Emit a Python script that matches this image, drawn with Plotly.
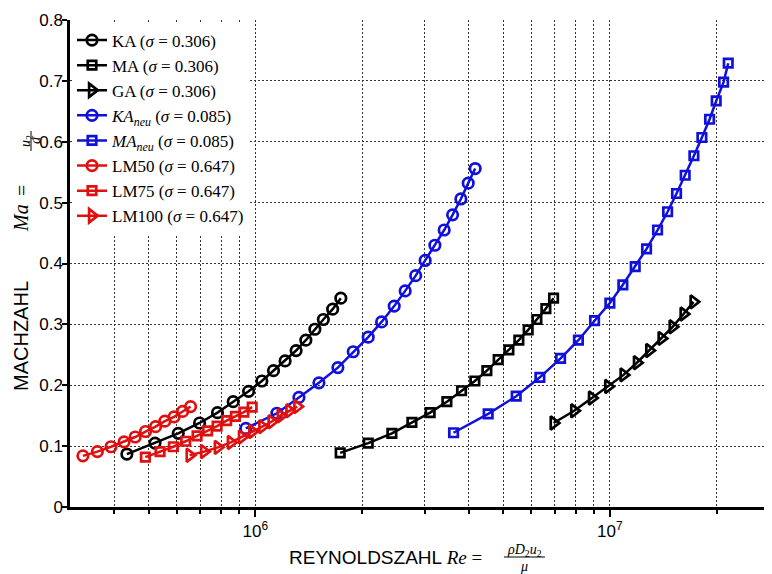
import plotly.graph_objects as go

# ---------------- data ----------------
ka_re = [4.34e5, 5.21e5, 6.06e5, 6.96e5, 7.82e5, 8.66e5, 9.57e5, 1.043e6,
         1.125e6, 1.213e6, 1.303e6, 1.388e6, 1.472e6, 1.555e6, 1.652e6, 1.742e6]
ka_ma = [0.087, 0.105, 0.121, 0.138, 0.155, 0.173, 0.190, 0.207,
         0.224, 0.240, 0.257, 0.274, 0.292, 0.308, 0.325, 0.343]

ma_re = [1.735e6, 2.081e6, 2.427e6, 2.764e6, 3.112e6, 3.469e6, 3.816e6, 4.161e6,
         4.498e6, 4.841e6, 5.190e6, 5.537e6, 5.882e6, 6.225e6, 6.599e6, 6.937e6]
ma_ma = [0.089, 0.105, 0.121, 0.139, 0.155, 0.173, 0.191, 0.207,
         0.224, 0.242, 0.258, 0.274, 0.291, 0.308, 0.326, 0.343]

ga_re = [6.94e6, 7.93e6, 8.90e6, 9.89e6, 1.093e7, 1.192e7, 1.291e7, 1.399e7,
         1.503e7, 1.614e7, 1.722e7]
ga_ma = [0.138, 0.158, 0.179, 0.198, 0.217, 0.237, 0.257, 0.277,
         0.296, 0.317, 0.337]

kaneu_re = [9.40e5, 1.150e6, 1.327e6, 1.511e6, 1.709e6, 1.888e6, 2.081e6, 2.270e6,
            2.464e6, 2.646e6, 2.833e6, 3.013e6, 3.209e6, 3.409e6, 3.600e6, 3.799e6,
            3.985e6, 4.169e6]
kaneu_ma = [0.129, 0.154, 0.180, 0.204, 0.229, 0.255, 0.279, 0.304,
            0.330, 0.355, 0.380, 0.405, 0.430, 0.455, 0.480, 0.506,
            0.532, 0.556]

maneu_re = [3.623e6, 4.536e6, 5.442e6, 6.347e6, 7.260e6, 8.152e6, 9.054e6, 1.000e7,
            1.088e7, 1.179e7, 1.269e7, 1.363e7, 1.455e7, 1.542e7, 1.631e7, 1.726e7,
            1.818e7, 1.911e7, 1.995e7, 2.093e7, 2.157e7]
maneu_ma = [0.122, 0.153, 0.182, 0.213, 0.244, 0.274, 0.306, 0.335,
            0.365, 0.395, 0.424, 0.455, 0.485, 0.515, 0.545, 0.577,
            0.607, 0.637, 0.667, 0.698, 0.729]

lm50_re = [3.262e5, 3.584e5, 3.917e5, 4.263e5, 4.581e5, 4.900e5, 5.230e5, 5.555e5,
           5.897e5, 6.235e5, 6.566e5]
lm50_ma = [0.084, 0.091, 0.099, 0.107, 0.115, 0.124, 0.132, 0.141,
           0.148, 0.157, 0.165]

lm75_re = [4.894e5, 5.385e5, 5.870e5, 6.359e5, 6.848e5, 7.331e5, 7.798e5, 8.299e5,
           8.783e5, 9.281e5, 9.795e5]
lm75_ma = [0.082, 0.091, 0.099, 0.108, 0.117, 0.125, 0.133, 0.142,
           0.149, 0.156, 0.164]

lm100_re = [6.524e5, 7.168e5, 7.834e5, 8.526e5, 9.162e5, 9.800e5, 1.046e6, 1.111e6,
            1.179e6, 1.247e6, 1.313e6]
lm100_ma = [0.085, 0.091, 0.098, 0.106, 0.115, 0.124, 0.132, 0.140,
            0.150, 0.158, 0.165]

series_names = [
    "KA (<i>σ</i> = 0.306)",
    "MA (<i>σ</i> = 0.306)",
    "GA (<i>σ</i> = 0.306)",
    "<i>KA<sub>neu</sub></i> (<i>σ</i> = 0.085)",
    "<i>MA<sub>neu</sub></i> (<i>σ</i> = 0.085)",
    "LM50 (<i>σ</i> = 0.647)",
    "LM75 (<i>σ</i> = 0.647)",
    "LM100 (<i>σ</i> = 0.647)",
]

x_tick_vals = [1e6, 1e7]
x_tick_text = ["10<sup>6</sup>", "10<sup>7</sup>"]
x_minor_vals = [4e5, 5e5, 6e5, 7e5, 8e5, 9e5,
                2e6, 3e6, 4e6, 5e6, 6e6, 7e6, 8e6, 9e6, 2e7]

# ---------------- styling ----------------
BLACK = "#000000"
BLUE = "#1010dc"
RED = "#e01010"

OFF = 8                       # page body margin of the html page
W, H = 772 - OFF, 574 - OFF   # figure size
ML, MR, MT, MB = 70 - OFF, 2, 20 - OFF, 67
PW, PH = W - ML - MR, H - MT - MB


def px(x):
    """page pixel x -> paper coordinate"""
    return (x - OFF - ML) / PW


def py(y):
    """page pixel y -> paper coordinate"""
    return (H - MB - (y - OFF)) / PH


fig = go.Figure()

specs = [
    (ka_re, ka_ma, BLACK, "circle-open", 10.5),
    (ma_re, ma_ma, BLACK, "square-open", 8.5),
    (ga_re, ga_ma, BLACK, "triangle-right-open", 11.5),
    (kaneu_re, kaneu_ma, BLUE, "circle-open", 10.5),
    (maneu_re, maneu_ma, BLUE, "square-open", 8.5),
    (lm50_re, lm50_ma, RED, "circle-open", 10.5),
    (lm75_re, lm75_ma, RED, "square-open", 8.5),
    (lm100_re, lm100_ma, RED, "triangle-right-open", 11.5),
]

for (xs, ys, col, sym, sz), name in zip(specs, series_names):
    fig.add_trace(go.Scatter(
        x=xs, y=ys, name=name, mode="lines+markers",
        line=dict(color=col, width=2.5),
        marker=dict(symbol=sym, size=sz, color=col, line=dict(color=col, width=2.7)),
    ))

GRID = dict(showgrid=True, gridcolor="#333333", gridwidth=1, griddash="2px,2px")

fig.update_xaxes(
    type="log",
    range=[5.4771, 5.4771 + PW / 354.5],
    tickmode="array", tickvals=x_tick_vals, ticktext=x_tick_text,
    ticks="outside", ticklen=7, tickwidth=2, tickcolor="black",
    showline=True, linecolor="black", linewidth=2.5,
    zeroline=False, mirror=False, automargin=False,
    tickfont=dict(family="Liberation Sans, Arial, sans-serif", size=17, color="black"),
    minor=dict(tickmode="array", tickvals=x_minor_vals, ticks="outside", ticklen=4,
               tickwidth=1.5, tickcolor="black", **GRID),
    **GRID,
)
fig.update_yaxes(
    range=[0, 0.8], dtick=0.1, tick0=0,
    ticks="outside", ticklen=5, tickwidth=2, tickcolor="black",
    ticklabelstandoff=-4,
    showline=True, linecolor="black", linewidth=2.5,
    zeroline=False, mirror=False, automargin=False,
    tickfont=dict(family="Liberation Sans, Arial, sans-serif", size=17, color="black"),
    **GRID,
)

SERIF = "Liberation Serif, Times New Roman, serif"
SANS = "Liberation Sans, Arial, sans-serif"

annotations = [
    # x-axis title
    dict(text='REYNOLDSZAHL <span style="font-family:Liberation Serif"><i>Re</i> =</span>',
         x=px(287), y=py(557), xanchor="left", yanchor="middle",
         font=dict(family=SANS, size=19, color="black")),
    dict(text="<i>ρD</i><sub>2</sub><i>u</i><sub>2</sub>",
         x=px(524), y=py(550), xanchor="center", yanchor="middle",
         font=dict(family=SERIF, size=14, color="black")),
    dict(text="<i>μ</i>",
         x=px(524), y=py(566), xanchor="center", yanchor="middle",
         font=dict(family=SERIF, size=14, color="black")),
    # y-axis title
    dict(text="MACHZAHL",
         x=px(21), y=py(393), xanchor="center", yanchor="bottom", textangle=-90,
         font=dict(family=SANS, size=20, color="black")),
    dict(text="<i>Ma</i>",
         x=px(21), y=py(218), xanchor="center", yanchor="middle", textangle=-90,
         font=dict(family=SERIF, size=20, color="black")),
    dict(text="=",
         x=px(22), y=py(191), xanchor="center", yanchor="middle", textangle=-90,
         font=dict(family=SERIF, size=20, color="black")),
    dict(text="<i>u</i><sub>2</sub>",
         x=px(26), y=py(141), xanchor="center", yanchor="middle", textangle=-90,
         font=dict(family=SERIF, size=14, color="black")),
    dict(text="<i>a</i>",
         x=px(35), y=py(141), xanchor="center", yanchor="middle", textangle=-90,
         font=dict(family=SERIF, size=14, color="black")),
]
for a in annotations:
    a.update(xref="paper", yref="paper", showarrow=False)

shapes = [
    dict(type="line", xref="paper", yref="paper",
         x0=px(504), x1=px(545), y0=py(557), y1=py(557),
         line=dict(color="black", width=1)),
    dict(type="line", xref="paper", yref="paper",
         x0=px(31), x1=px(31), y0=py(131), y1=py(151),
         line=dict(color="black", width=1)),
]

fig.update_layout(
    width=W, height=H,
    margin=dict(l=ML, r=MR, t=MT, b=MB, pad=0, autoexpand=False),
    paper_bgcolor="white", plot_bgcolor="white",
    showlegend=True,
    legend=dict(x=px(72), y=py(22.5), xanchor="left", yanchor="top",
                bgcolor="white", borderwidth=0,
                font=dict(family=SERIF, size=17, color="black"),
                itemwidth=30, tracegroupgap=0),
    annotations=annotations, shapes=shapes,
)

fig.write_html("out.html")
